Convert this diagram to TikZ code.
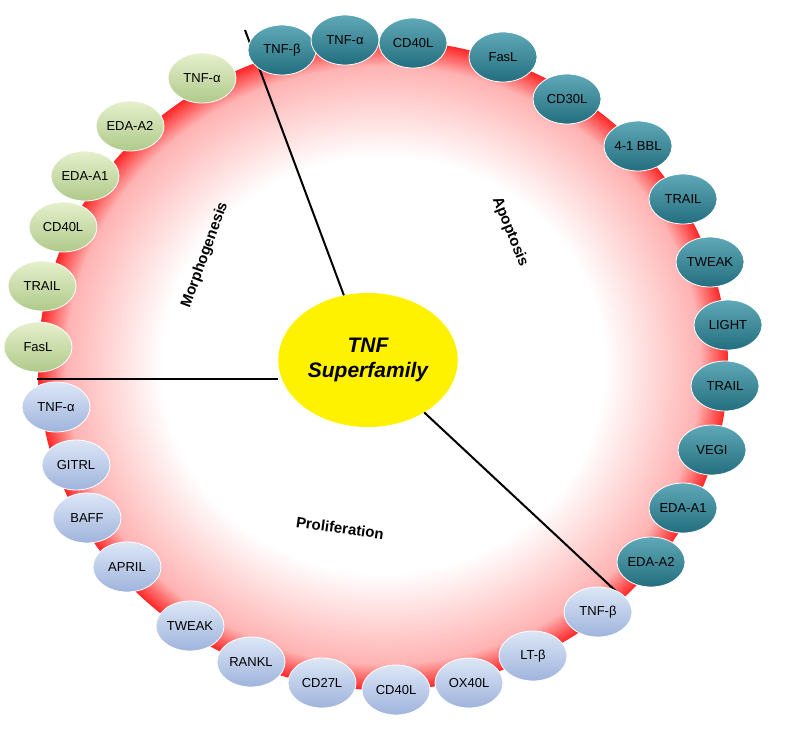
\documentclass[tikz,border=0pt]{standalone}
\usepackage{fontspec}
\setmainfont{Liberation Sans}
\usetikzlibrary{shapes.geometric}
\definecolor{tealA}{HTML}{5FA8B8}
\definecolor{tealB}{HTML}{236E7E}
\definecolor{bluA}{HTML}{DCE6F6}
\definecolor{bluB}{HTML}{9FB4DC}
\definecolor{grnA}{HTML}{E6F0CC}
\definecolor{grnB}{HTML}{AFC98A}
\begin{document}
\pgfdeclareradialshading{ring}{\pgfpoint{0bp}{0bp}}{color(0bp)=(white);color(16bp)=(white);color(23bp)=(red!30);color(25bp)=(red!85);color(50bp)=(red!85)}
\begin{tikzpicture}[x=1pt,y=-1pt,
  lig/.style={ellipse,draw=white,line width=0.8pt,minimum width=68pt,minimum height=50pt,inner sep=0pt,font=\fontsize{13}{14}\selectfont},
  teal/.style={lig,top color=tealA,bottom color=tealB,text=black},
  blu/.style={lig,top color=bluA,bottom color=bluB},
  grn/.style={lig,top color=grnA,bottom color=grnB},
  lab/.style={font=\bfseries\fontsize{15}{17}\selectfont},
  spoke/.style={line width=2pt}]
\useasboundingbox (0,0) rectangle (789,730);
\shade[shading=ring] (383,365) ellipse [x radius=345,y radius=325];
\coordinate (s1a) at (245,30); \coordinate (s2a) at (37,379); \coordinate (s3a) at (620,595);
\node[ellipse,fill=yellow,minimum width=162pt,minimum height=134pt,font=\bfseries\itshape\fontsize{21}{25}\selectfont,align=center] (c) at (368,360) {TNF\\Superfamily};
\draw[spoke] (s1a) -- (c);
\draw[spoke] (s2a) -- (s2a -| c.west);
\draw[spoke] (s3a) -- (c);
\node[lab,rotate=70] (m) at (205,255) {Morphogenesis};
\node[lab,rotate=-68] (a) at (510,232) {Apoptosis};
\node[lab,rotate=-8] (p) at (340,528) {Proliferation};
% apoptosis
\node[teal] (t1) at (282,50) {TNF-β};
\node[teal] (t2) at (345,40) {TNF-α};
\node[teal] (t3) at (413,43) {CD40L};
\node[teal] (t4) at (503,57) {FasL};
\node[teal] (t5) at (567,99) {CD30L};
\node[teal] (t6) at (638,146) {4-1 BBL};
\node[teal] (t7) at (683,199) {TRAIL};
\node[teal] (t8) at (710,262) {TWEAK};
\node[teal] (t9) at (728,325) {LIGHT};
\node[teal] (t10) at (725,386) {TRAIL};
\node[teal] (t11) at (712,450) {VEGI};
\node[teal] (t12) at (683,508) {EDA-A1};
\node[teal] (t13) at (651,562) {EDA-A2};
% proliferation
\node[blu] (b1) at (598,612) {TNF-β};
\node[blu] (b2) at (533,656) {LT-β};
\node[blu] (b3) at (469,683) {OX40L};
\node[blu] (b4) at (396,690) {CD40L};
\node[blu] (b5) at (322,683) {CD27L};
\node[blu] (b6) at (251,662) {RANKL};
\node[blu] (b7) at (190,626) {TWEAK};
\node[blu] (b8) at (127,567) {APRIL};
\node[blu] (b9) at (87,518) {BAFF};
\node[blu] (b10) at (76,465) {GITRL};
\node[blu] (b11) at (56,407) {TNF-α};
% morphogenesis
\node[grn] (g1) at (202,78) {TNF-α};
\node[grn] (g2) at (130,126) {EDA-A2};
\node[grn] (g3) at (85,176) {EDA-A1};
\node[grn] (g4) at (63,227) {CD40L};
\node[grn] (g5) at (42,286) {TRAIL};
\node[grn] (g6) at (38,347) {FasL};
\end{tikzpicture}
\end{document}
